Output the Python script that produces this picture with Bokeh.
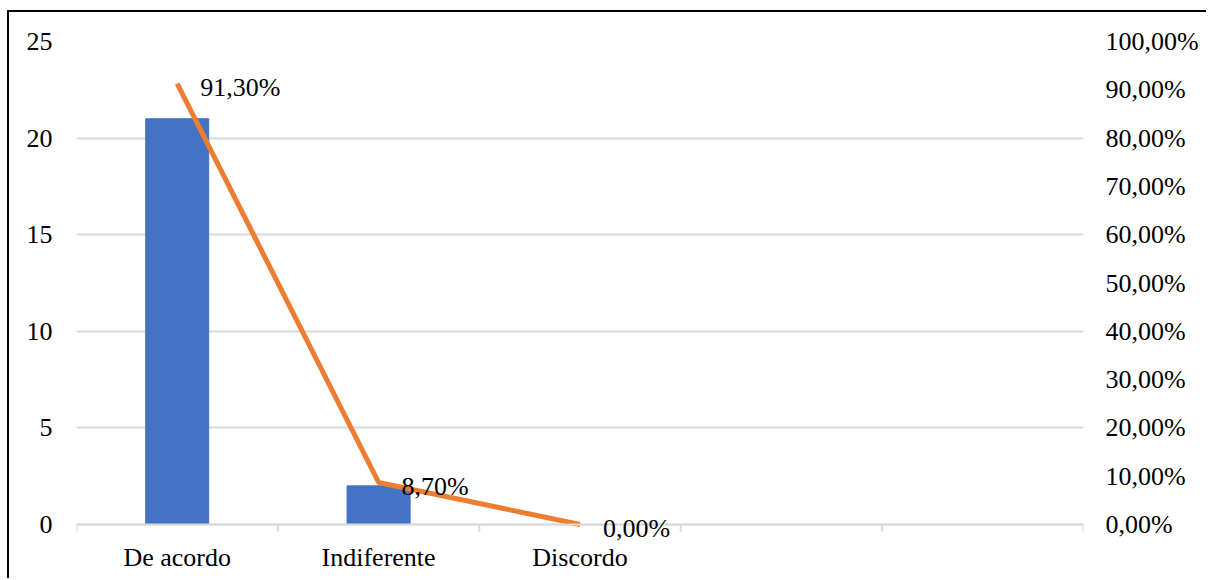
from bokeh.plotting import figure
from bokeh.models import (Range1d, LinearAxis, FixedTicker, ColumnDataSource,
                          LabelSet, Span)
from bokeh.embed import file_html
from bokeh.resources import INLINE

categories = ["De acordo", "Indiferente", "Discordo", "", ""]
counts = [21, 2, 0]
percents = [91.30, 8.70, 0.00]
left_ticks = [0, 5, 10, 15, 20, 25]
right_ticks = [0, 10, 20, 30, 40, 50, 60, 70, 80, 90, 100]

FONT = "Liberation Serif"
FS = "26px"
GRID = "#D9D9D9"

n = len(categories)
xc = [i + 0.5 for i in range(len(counts))]
pct_labels = [f"{v:.2f}%".replace(".", ",") for v in percents]

# layout (pixels): value axis spans 483 px, frame extends 52 px below zero
PX_SPAN = 483.0
PX_BELOW = 52.0
ymax = left_ticks[-1]
pmax = right_ticks[-1]
ymin = -PX_BELOW * ymax / PX_SPAN
pmin = -PX_BELOW * pmax / PX_SPAN

p = figure(width=1199, height=568, output_backend="svg", toolbar_location=None,
           x_range=Range1d(0, n), y_range=Range1d(ymin, ymax),
           x_axis_location=None,
           min_border_left=67, min_border_right=125, min_border_top=29,
           min_border_bottom=4, margin=(10, 0, 0, 7))
p.styles = {"border-left": "2px solid black", "border-top": "2px solid black"}
p.outline_line_color = None
p.background_fill_color = "white"
p.border_fill_color = "white"
p.extra_y_ranges = {"pct": Range1d(pmin, pmax)}

for g in p.grid:
    if g.dimension == 0:
        g.grid_line_color = None
    else:
        g.grid_line_color = GRID
        g.grid_line_width = 2

# category axis line and boundary ticks
p.add_layout(Span(location=0, dimension="width", line_color=GRID, line_width=2))
tick_len = 7 * ymax / PX_SPAN
bounds = list(range(n + 1))
p.segment(x0=bounds, y0=[0] * len(bounds), x1=bounds,
          y1=[-tick_len] * len(bounds), line_color=GRID, line_width=2)

src = ColumnDataSource(dict(x=xc, c=counts, p=percents, lab=pct_labels))
p.vbar(x="x", top="c", width=0.313, color="#4472C4", source=src)
p.line(x="x", y="p", y_range_name="pct", line_color="#ED7D31", line_width=5,
       source=src)
p.add_layout(LabelSet(x="x", y="p", text="lab", y_range_name="pct", source=src,
                      x_offset=23, y_offset=-4, text_baseline="middle",
                      text_font=FONT, text_font_size=FS, text_color="black",
                      level="overlay"))

csrc = ColumnDataSource(dict(x=[i + 0.5 for i in range(n)], y=[0] * n,
                             t=categories))
p.add_layout(LabelSet(x="x", y="y", text="t", source=csrc, y_offset=-33,
                      text_align="center", text_baseline="middle",
                      text_font=FONT, text_font_size=FS, text_color="black"))

# left axis
ax = p.yaxis[0]
ax.ticker = FixedTicker(ticks=left_ticks)
ax.axis_line_color = None
ax.major_tick_line_color = None
ax.minor_tick_line_color = None
ax.major_tick_out = 0
ax.major_tick_in = 0
ax.major_label_standoff = 24
ax.major_label_text_font = FONT
ax.major_label_text_font_size = FS
ax.major_label_text_color = "black"

# right axis
ra = LinearAxis(y_range_name="pct", ticker=FixedTicker(ticks=right_ticks))
ra.major_label_overrides = {t: f"{t:.2f}%".replace(".", ",") for t in right_ticks}
ra.axis_line_color = None
ra.major_tick_line_color = None
ra.minor_tick_line_color = None
ra.major_tick_out = 0
ra.major_tick_in = 0
ra.major_label_standoff = 22
ra.major_label_text_font = FONT
ra.major_label_text_font_size = FS
ra.major_label_text_color = "black"
p.add_layout(ra, "right")

open("out.html", "w").write(file_html(p, INLINE))
